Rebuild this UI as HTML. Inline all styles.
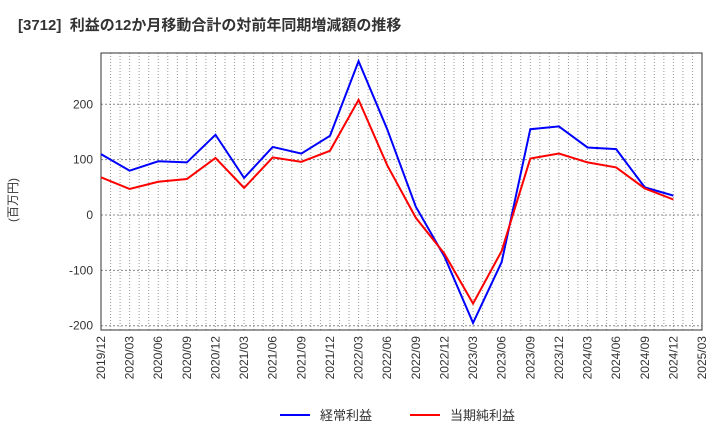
<!DOCTYPE html>
<html><head><meta charset="utf-8"><style>
body{margin:0;background:#fff;}
svg{display:block;font-family:"Liberation Sans","Noto Sans CJK JP",sans-serif;}
</style></head><body>
<svg id="c" width="720" height="440" viewBox="0 0 720 440">
<text x="18" y="30" font-size="15" font-weight="bold" fill="#333" xml:space="preserve">[3712]  利益の12か月移動合計の対前年同期増減額の推移</text>
<text transform="translate(17,200) rotate(-90)" font-size="12" fill="#333" text-anchor="middle">(百万円)</text>
<g id="grid"></g><g id="axes"></g><g id="series"></g>
<g>
<line x1="280" y1="415" x2="310" y2="415" stroke="#0000ff" stroke-width="2"/>
<text x="320" y="420" font-size="13" fill="#333">経常利益</text>
<line x1="410" y1="415" x2="440" y2="415" stroke="#ff0000" stroke-width="2"/>
<text x="450" y="420" font-size="13" fill="#333">当期純利益</text>
</g>
</svg>
<script>
const categories=["2019/12","2020/03","2020/06","2020/09","2020/12","2021/03","2021/06","2021/09","2021/12","2022/03","2022/06","2022/09","2022/12","2023/03","2023/06","2023/09","2023/12","2024/03","2024/06","2024/09","2024/12","2025/03"];
const ordinaryProfit=[110,80,97,95,145,67,123,111,143,278,155,15,-75,-195,-85,155,160,122,119,50,35];
const netIncome=[68,47,60,65,103,49,104,96,116,208,90,-5,-70,-160,-65,102,111,95,86,48,28];
const yTicks=[-200,-100,0,100,200];
const NS="http://www.w3.org/2000/svg";
const L=101,R=702,T=53,B=330;
const X=i=>L+(R-L)*i/(categories.length-1);
const Y=v=>215-v*0.5535;
function mk(tag,attrs,parent){const e=document.createElementNS(NS,tag);for(const k in attrs)e.setAttribute(k,attrs[k]);parent.appendChild(e);return e;}
const grid=document.getElementById('grid'),axes=document.getElementById('axes'),series=document.getElementById('series');
const nm=(categories.length-1)*3;
for(let m=1;m<nm;m++){const x=L+(R-L)*m/nm;const g=mk('line',{x1:x,y1:T,x2:x,y2:B,stroke:'#999','stroke-dasharray':'1,2'},grid);

}
yTicks.forEach(v=>{const y=Y(v);const g=mk('line',{x1:L,y1:y,x2:R,y2:y,stroke:'#888','stroke-dasharray':'2,2'},grid);


const t=mk('text',{x:L-8,y:y+4,'font-size':12,fill:'#333','text-anchor':'end'},axes);t.textContent=v;

});
const fr=mk('rect',{x:L,y:T,width:R-L,height:B-T,fill:'none',stroke:'#333','stroke-width':1},axes);


categories.forEach((c,i)=>{const x=X(i);const t=mk('text',{transform:`translate(${x+4},${B+6}) rotate(-90)`,'font-size':12,fill:'#333','text-anchor':'end'},axes);t.textContent=c;

});
function line(data,color,name){const p=mk('polyline',{points:data.map((v,i)=>X(i)+','+Y(v)).join(' '),fill:'none',stroke:color,'stroke-width':2},series);

}
line(ordinaryProfit,'#0000ff','ordinary-profit-line');
line(netIncome,'#ff0000','net-income-line');
</script>
</body></html>
